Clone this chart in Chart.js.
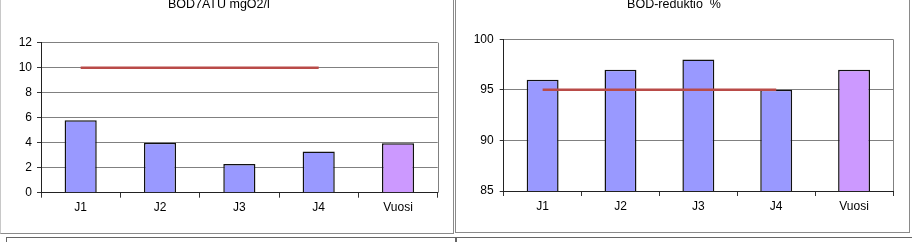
<!DOCTYPE html>
<html>
<head>
<meta charset="utf-8">
<script src="https://cdn.jsdelivr.net/npm/chart.js@4/dist/chart.umd.min.js"></script>
<style>
  html, body { margin: 0; padding: 0; background: #fff; width: 912px; height: 242px; overflow: hidden; position: relative; }
  .panel { position: absolute; box-sizing: border-box; border: 1px solid #8a8a8a; background: #fff; }
  canvas { position: absolute; }
</style>
</head>
<body>
<div class="panel" style="left:0; top:-10px; width:454px; height:244px; border-left-color:#c8c8c8;"></div>
<div class="panel" style="left:455px; top:-10px; width:455px; height:243px;"></div>
<div class="panel" style="left:6px; top:237px; width:450px; height:20px; border-color:#666;"></div>
<div class="panel" style="left:456px; top:237px; width:470px; height:20px; border-color:#666;"></div>
<canvas id="c1" width="453" height="248" style="left:0; top:-6px;"></canvas>
<canvas id="c2" width="457" height="248" style="left:455px; top:-6px;"></canvas>
<script>
// ---- data ----
const categories = ['J1', 'J2', 'J3', 'J4', 'Vuosi'];
const bodValues = [5.8, 4.0, 2.3, 3.3, 3.95];
const bodLimit = [10, 10, 10, 10, null];
const bodTitle = 'BOD7ATU mgO2/l';
const bodTicks = { min: 0, max: 12, step: 2 };
const redValues = [96, 97, 98, 95, 97];
const redLimit = [95, 95, 95, 95, null];
const redTitle = 'BOD-reduktio  %';
const redTicks = { min: 85, max: 100, step: 5 };

const barColors = ['#9999ff', '#9999ff', '#9999ff', '#9999ff', '#cc99ff'];
const FONT = '"Liberation Sans", Arial, sans-serif';

const framePlugin = {
  id: 'plotFrame',
  afterDatasetsDraw(chart) {
    const a = chart.chartArea, ctx = chart.ctx;
    ctx.save();
    ctx.strokeStyle = '#808080';
    ctx.lineWidth = 1;
    ctx.beginPath();
    ctx.moveTo(Math.round(a.right) + 0.5, a.top);
    ctx.lineTo(Math.round(a.right) + 0.5, a.bottom);
    ctx.stroke();
    ctx.restore();
  }
};

function makeChart(id, title, values, limit, ticks, geo) {
  return new Chart(document.getElementById(id), {
    type: 'bar',
    data: {
      labels: categories,
      datasets: [
        { type: 'line', data: limit, borderColor: 'rgb(185,75,72)', borderWidth: 2.5,
          pointRadius: 0, fill: false, order: 0, spanGaps: false },
        { type: 'bar', data: values, backgroundColor: barColors, borderColor: '#111',
          borderWidth: 1.5, barPercentage: geo.bar, categoryPercentage: 1, order: 1 }
      ]
    },
    options: {
      responsive: false,
      animation: false,
      devicePixelRatio: 1,
      layout: { padding: { left: 0, right: geo.padRight, top: 0, bottom: 0 } },
      plugins: {
        legend: { display: false },
        tooltip: { enabled: false },
        title: { display: true, text: title, color: '#000',
          font: { family: FONT, size: 12.5, weight: 'normal', lineHeight: 1.2 },
          padding: { top: 2.8, bottom: geo.titleBottom } }
      },
      scales: {
        x: {
          offset: true,
          grid: { display: true, offset: true, drawOnChartArea: false, tickLength: 5, tickColor: '#333' },
          border: { display: true, color: '#222', width: 1 },
          ticks: { color: '#000', padding: 3, font: { family: FONT, size: 12 } },
          afterFit(s) { s.height = geo.xHeight; }
        },
        y: {
          min: ticks.min, max: ticks.max,
          grid: { color: '#808080', tickLength: 4, tickColor: '#333' },
          border: { display: true, color: '#222', width: 1 },
          ticks: { stepSize: ticks.step, color: '#000', padding: geo.yPad, font: { family: FONT, size: 12 } },
          afterFit(s) { s.width = geo.yWidth; }
        }
      }
    },
    plugins: [framePlugin]
  });
}

makeChart('c1', bodTitle, bodValues, bodLimit, bodTicks,
  { bar: 0.405, padRight: 15.3, titleBottom: 30.9, xHeight: 49.3, yWidth: 41, yPad: 5 });
makeChart('c2', redTitle, redValues, redLimit, redTicks,
  { bar: 0.41, padRight: 19, titleBottom: 27.5, xHeight: 51, yWidth: 48.7, yPad: 6 });
</script>
</body>
</html>
